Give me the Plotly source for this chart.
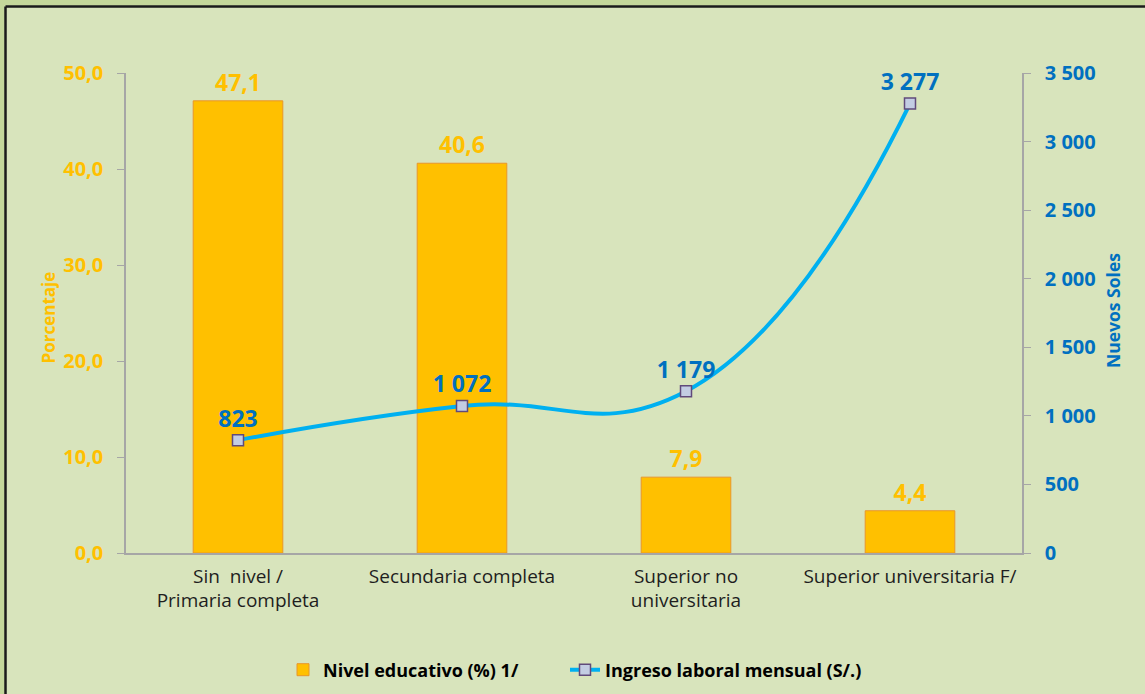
import plotly.graph_objects as go

categories = ["Sin  nivel /<br>Primaria completa", "Secundaria completa",
              "Superior no<br>universitaria", "Superior universitaria F/"]
nivel_educativo = [47.1, 40.6, 7.9, 4.4]
ingreso_mensual = [823, 1072, 1179, 3277]

ORANGE = "#ffc000"
BLUE = "#0070c0"
FONT = "Open Sans"

# plot area in pixels
L, R, T, B = 126, 1022, 73, 553
W, H = 1145, 694

def px_x(p):
    return (p - L) / (R - L)

def px_y(p):
    return (B - p) / (B - T)

fig = go.Figure()
fig.add_trace(go.Bar(
    x=categories, y=nivel_educativo, name="Nivel educativo (%) 1/",
    marker=dict(color=ORANGE, line=dict(color="#e8962a", width=1)),
    texttemplate="%{y:.1f}", textposition="outside",
    textfont=dict(color=ORANGE, size=23, family=FONT, weight="bold"),
    cliponaxis=False, legend="legend",
))
fig.add_trace(go.Scatter(
    x=categories, y=ingreso_mensual, name="Ingreso laboral mensual (S/.)",
    yaxis="y2", mode="lines+markers+text",
    line=dict(color="#00b0f0", width=4, shape="spline", smoothing=1.3),
    marker=dict(symbol="square", size=11, color="#c3cde3",
                line=dict(color="#604a7b", width=1.5)),
    texttemplate="%{y:,.0f}", textposition="top center",
    textfont=dict(color=BLUE, size=23, family=FONT, weight="bold"),
    cliponaxis=False, legend="legend2",
))

legend_font = dict(size=18, color="#000000", family=FONT, weight="bold")
axis_line = "#a6a6a6"
fig.update_layout(
    width=W, height=H,
    margin=dict(l=L, r=W - R, t=T, b=H - B),
    paper_bgcolor="#d8e4bc", plot_bgcolor="#d8e4bc",
    separators=", ",
    bargap=0.6,
    showlegend=True,
    font=dict(family=FONT),
    legend=dict(orientation="h", x=px_x(283), xanchor="left",
                yref="container", y=1 - 670 / H, yanchor="middle",
                font=legend_font, bgcolor="rgba(0,0,0,0)"),
    legend2=dict(orientation="h", x=px_x(565), xanchor="left",
                 yref="container", y=1 - 670 / H, yanchor="middle",
                 font=legend_font, bgcolor="rgba(0,0,0,0)"),
    xaxis=dict(showline=True, linecolor=axis_line, linewidth=1.5, ticks="",
               tickfont=dict(size=19, color="#1e1e1e", family=FONT),
               ticklabelstandoff=5, showgrid=False),
    yaxis=dict(range=[0, 50], dtick=10, tickformat=".1f", showgrid=False,
               showline=True, linecolor=axis_line, linewidth=1.5,
               ticks="outside", ticklen=7, tickcolor=axis_line, ticklabelstandoff=10,
               tickfont=dict(size=20, color=ORANGE, family=FONT, weight="bold"),
               zeroline=False),
    yaxis2=dict(range=[0, 3500], dtick=500, tickformat=",.0f", overlaying="y", side="right",
                showgrid=False, showline=True, linecolor=axis_line, linewidth=1.5,
                ticks="outside", ticklen=7, tickcolor=axis_line, ticklabelstandoff=10,
                tickfont=dict(size=20, color=BLUE, family=FONT, weight="bold"),
                zeroline=False),
    annotations=[
        dict(text="Porcentaje", x=px_x(34), y=px_y(318), xref="paper", yref="paper",
             showarrow=False, textangle=-90,
             font=dict(size=17, color=ORANGE, family=FONT, weight="bold")),
        dict(text="Nuevos Soles", x=px_x(1127), y=px_y(311), xref="paper", yref="paper",
             showarrow=False, textangle=-90,
             font=dict(size=17.5, color=BLUE, family=FONT, weight="bold")),
    ],
    shapes=[
        dict(type="rect", xref="paper", yref="paper", x0=px_x(-5), x1=px_x(W + 5),
             y0=px_y(5.5), y1=px_y(-5), fillcolor="#c4d79b", line=dict(width=0), layer="above"),
        dict(type="rect", xref="paper", yref="paper", x0=px_x(-5), x1=px_x(4.5),
             y0=px_y(H + 5), y1=px_y(-5), fillcolor="#c4d79b", line=dict(width=0), layer="above"),
        dict(type="line", xref="paper", yref="paper", x0=px_x(5.5), x1=px_x(W + 5),
             y0=px_y(6.5), y1=px_y(6.5), line=dict(color="#1a1a1a", width=2.5), layer="above"),
        dict(type="line", xref="paper", yref="paper", x0=px_x(5.5), x1=px_x(5.5),
             y0=px_y(H + 5), y1=px_y(6.5), line=dict(color="#1a1a1a", width=2.5), layer="above"),
    ],
)

fig.write_html("out.html")
